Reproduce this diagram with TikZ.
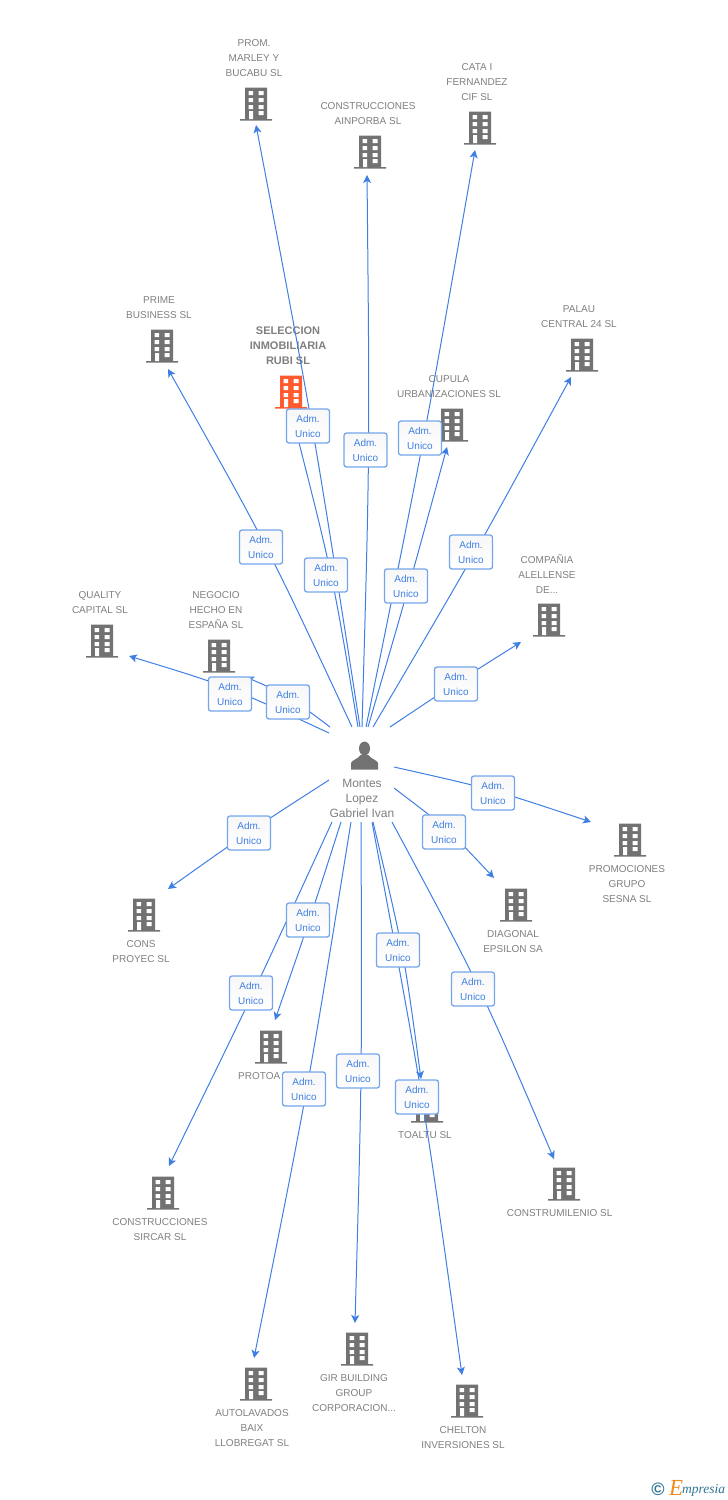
\documentclass[tikz,border=0pt]{standalone}
\usepackage{fontspec}
\setmainfont{Liberation Sans}
\newfontfamily\logofont{Liberation Serif}
\usepackage{tikz}
\usetikzlibrary{arrows.meta}
\usetikzlibrary{calc}
\definecolor{linkblue}{HTML}{3F7FE3}
\definecolor{boxedge}{HTML}{74A5EA}
\definecolor{labelgray}{HTML}{7F7F7F}
\definecolor{icongray}{HTML}{727272}
\definecolor{iconorange}{HTML}{FF5B2E}
\definecolor{logoteal}{HTML}{2F7591}
\definecolor{logoorange}{HTML}{F28A1E}
\tikzset{
	bldg/.style={minimum width=32pt, minimum height=33pt, inner sep=0pt, path picture={
		\begin{scope}[shift={(path picture bounding box.center)}, x=1pt, y=-1pt]
		\fill[#1] (-11,-16.5) rectangle (11,15) (-16,15) rectangle (16,16.5);
		\fill[white] (-7.5,-13) rectangle (-3,-9) (2.5,-13) rectangle (7.5,-9)
			(-7.5,-6) rectangle (-3,-2) (2.5,-6) rectangle (7.5,-2)
			(-7.5,1) rectangle (-3,5) (2.5,1) rectangle (7.5,5)
			(-7,7) rectangle (-3,15) (2.5,7) rectangle (7.5,11);
		\end{scope}
	}},
	persona/.style={minimum width=28pt, minimum height=29pt, inner sep=0pt, path picture={
		\begin{scope}[shift={(path picture bounding box.center)}, x=1pt, y=-1pt]
		\fill[icongray] (0,-6.5) circle [x radius=5.5, y radius=7];
		\fill[icongray] (-13.5,14.5) -- (-13.5,8) .. controls (-13,5) and (-6,4) .. (-4,0)
			-- (4,0) .. controls (6,4) and (13,5) .. (13.5,8) -- (13.5,14.5) -- cycle;
		\end{scope}
	}},
	caption/.style={align=center, inner sep=0pt, text=labelgray, font=\fontsize{10}{15}\selectfont},
	link/.style={draw=linkblue, line width=1pt, -{Stealth[length=8pt,width=8pt,inset=2pt]}},
	admbox/.style={draw=boxedge, line width=1.3pt, rounded corners=2.5pt, align=center,
		minimum width=43pt, minimum height=34pt, inner sep=0pt, text=linkblue,
		top color=black!3, bottom color=white,
		font=\fontsize{10}{15}\selectfont}
}
\begin{document}
\begin{tikzpicture}[x=1pt, y=-1pt]
		\useasboundingbox (0,0) rectangle (728,1500);

		% companies: icon, then caption
		\foreach \n/\ix/\iy/\lx/\ly/\txt in 
		{
				prom/256/104/254/58/{PROM.\\MARLEY Y\\BUCABU SL},
				ainporba/370/152/368/113.5/{CONSTRUCCIONES\\AINPORBA SL},
				cata/480/128/477/82/{CATA I\\FERNANDEZ\\CIF SL},
				prime/162/346/159/307.5/{PRIME\\BUSINESS SL},
				cupula/452/425/449/386.5/{CUPULA\\URBANIZACIONES SL},
				palau/582/355/579/316.5/{PALAU\\CENTRAL 24 SL},
				alellense/549/620/547/574/{COMPAÑIA\\ALELLENSE\\DE...},
				quality/102/641/100/602.5/{QUALITY\\CAPITAL SL},
				negocio/219/656/216/610/{NEGOCIO\\HECHO EN\\ESPAÑA SL},
				sesna/630/840/627/884/{PROMOCIONES\\GRUPO\\SESNA SL},
				diagonal/516/905/513/941.5/{DIAGONAL\\EPSILON SA},
				proyec/144/915/141/951.5/{CONS\\PROYEC SL},
				sircar/163/1193/160/1229.5/{CONSTRUCCIONES\\SIRCAR SL},
				autolav/256/1384/252/1428/{AUTOLAVADOS\\BAIX\\LLOBREGAT SL},
				gir/357/1349/354/1393/{GIR BUILDING\\GROUP\\CORPORACION...},
				chelton/467/1401/463/1437.5/{CHELTON\\INVERSIONES SL},
				toaltu/427/1106/425/1135/{TOALTU SL},
				milenio/564/1184/561/1213/{CONSTRUMILENIO SL}
		}
		{
				\node[bldg=icongray] (c\n) at (\ix,\iy) {};
				\node[caption] (l\n) at (\lx,\ly) {\txt};
		}
		\node[bldg=icongray] (cprotoa) at (271,1047) {};
		\node[caption, anchor=west] (lprotoa) at (238,1076) {PROTOA};
		\node[bldg=iconorange] (cseleccion) at (291,392) {};
		\node[caption, font=\fontsize{11}{15}\selectfont] (lseleccion) at (288,346) {\textbf{SELECCION}\\\textbf{INMOBILIARIA}\\\textbf{RUBI SL}};

		\node[persona] (pers) at (364.5,755) {};
		\node[caption, font=\fontsize{12}{15}\selectfont] (lpers) at (362,798) {Montes\\Lopez\\Gabriel Ivan};

		% links: free start, free tip, bow of the curve
		\foreach \n/\sx/\sy/\tx/\ty/\kx/\ky in 
		{
				prom/360/727/256/125/4/0,
				ainporba/362/727/367/175/4/0,
				cata/366/727/475/150/3/0,
				prime/352/727/168/369/6/-1,
				seleccion/358/727/294/423/5/0,
				cupula/368/727/447/447/1/0,
				palau/373/727/571/377/3/0,
				alellense/390/727/521/642/0/-1,
				quality/329/733/129/656/0/-6,
				negocio/330/727/246/677/0/-5,
				sesna/394/767/591/822/0/-4,
				diagonal/394/788/494/878/3/-3,
				proyec/329/780/168/889/0/-2,
				protoa/341/822/275/1020/1/0,
				sircar/332/822/169/1166/2/0,
				autolav/351/822/254/1358/4/0,
				gir/361/822/355/1323/3/0,
				chelton/372/822/462/1375/5/0,
				toaltu/373/822/421/1079/5/0,
				milenio/392/822/554/1159/6/-2
		}
		{
				\coordinate (s\n) at (\sx,\sy);
				\coordinate (t\n) at (\tx,\ty);
				\draw[link] (s\n) .. controls ($.5*(s\n)+.5*(t\n)+1.33*(\kx,\ky)$) .. (t\n);
		}
		\foreach \n/\bx/\by in 
		{
				prom/308/426,
				ainporba/365.5/450,
				cata/420/438,
				prime/261/547,
				seleccion/326/575,
				cupula/406/586,
				palau/471/552,
				alellense/456/684,
				negocio/288/702,
				quality/230/694,
				sesna/493/793,
				diagonal/444/832,
				proyec/249/833,
				protoa/308/920,
				sircar/251/993,
				autolav/304/1089,
				gir/358/1071,
				toaltu/398/950,
				chelton/417/1097,
				milenio/473/989
		}
		{
				\node[admbox] (b\n) at (\bx,\by) {Adm.\\Unico};
		}

		% logo
		\node[inner sep=0pt, text=logoteal, font=\bfseries\fontsize{18}{18}\selectfont] (logoc) at (658,1489) {©};
		\node[inner sep=0pt, anchor=base west, text=logoorange, font=\logofont\itshape\fontsize{23}{23}\selectfont] (logoe) at (669,1495) {E};
		\node[inner sep=0pt, anchor=base west, text=logoteal, font=\logofont\itshape\fontsize{13.5}{13.5}\selectfont] (logom) at (682,1493) {mpresia};
\end{tikzpicture}
\end{document}
